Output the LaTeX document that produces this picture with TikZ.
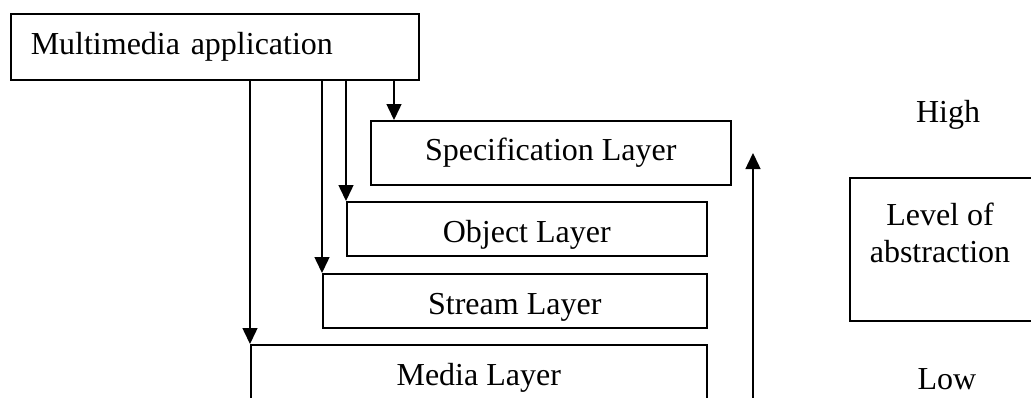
\documentclass[tikz,border=0pt]{standalone}
\usepackage{fontspec}
\setmainfont{Liberation Serif}
\usetikzlibrary{arrows.meta}
\tikzset{
  couche/.style={draw, line width=1.5pt, anchor=north west, inner sep=0pt,
    font=\fontsize{32}{37}\selectfont},
  bas texte/.style={text height=27pt, text depth=0pt},
  fleche/.style={line width=1.5pt, -{Triangle[length=16pt,width=15pt]}},
  texte/.style={font=\fontsize{32}{37}\selectfont, align=center}
}
\begin{document}
\begin{tikzpicture}[x=1pt, y=-1pt]
            % Cadre
            \clip (0,0) rectangle (1031,397);
            % Application
            \node[couche, minimum height=66pt, text width=368pt, inner xsep=20pt, align=left] (app) at (10,13) {Multimedia application};
            % Couches
            \node[couche, minimum width=360pt, minimum height=64pt] (spec) at (370,120) {Specification Layer};
            \node[couche, bas texte, minimum width=360pt, minimum height=54pt] (object) at (346,201) {Object Layer};
            \node[couche, bas texte, minimum width=384pt, minimum height=54pt] (stream) at (322,273) {Stream Layer};
            \node[couche, minimum width=456pt, minimum height=66pt] (media) at (250,344) {Media Layer};
            % Fleches vers les couches
            \coordinate (specin) at (394,120);
            \draw[fleche] (app.south -| specin) -- (specin);
            \draw[fleche] (app.south -| object.north west) -- (object.north west);
            \draw[fleche] (app.south -| stream.north west) -- (stream.north west);
            \draw[fleche] (app.south -| media.north west) -- (media.north west);
            % Niveau d'abstraction
            \coordinate (bas) at (753,400);
            \coordinate (haut) at (753,153);
            \draw[fleche] (bas) -- (haut);
            \draw[line width=1.5pt] (850,178) rectangle (1060,321);
            \node[texte] (niveau) at (940,233) {Level of\\abstraction};
            \node[texte] (high) at (948,115) {High};
            \node[texte] (low) at (947,379) {Low};
        \end{tikzpicture}
\end{document}
